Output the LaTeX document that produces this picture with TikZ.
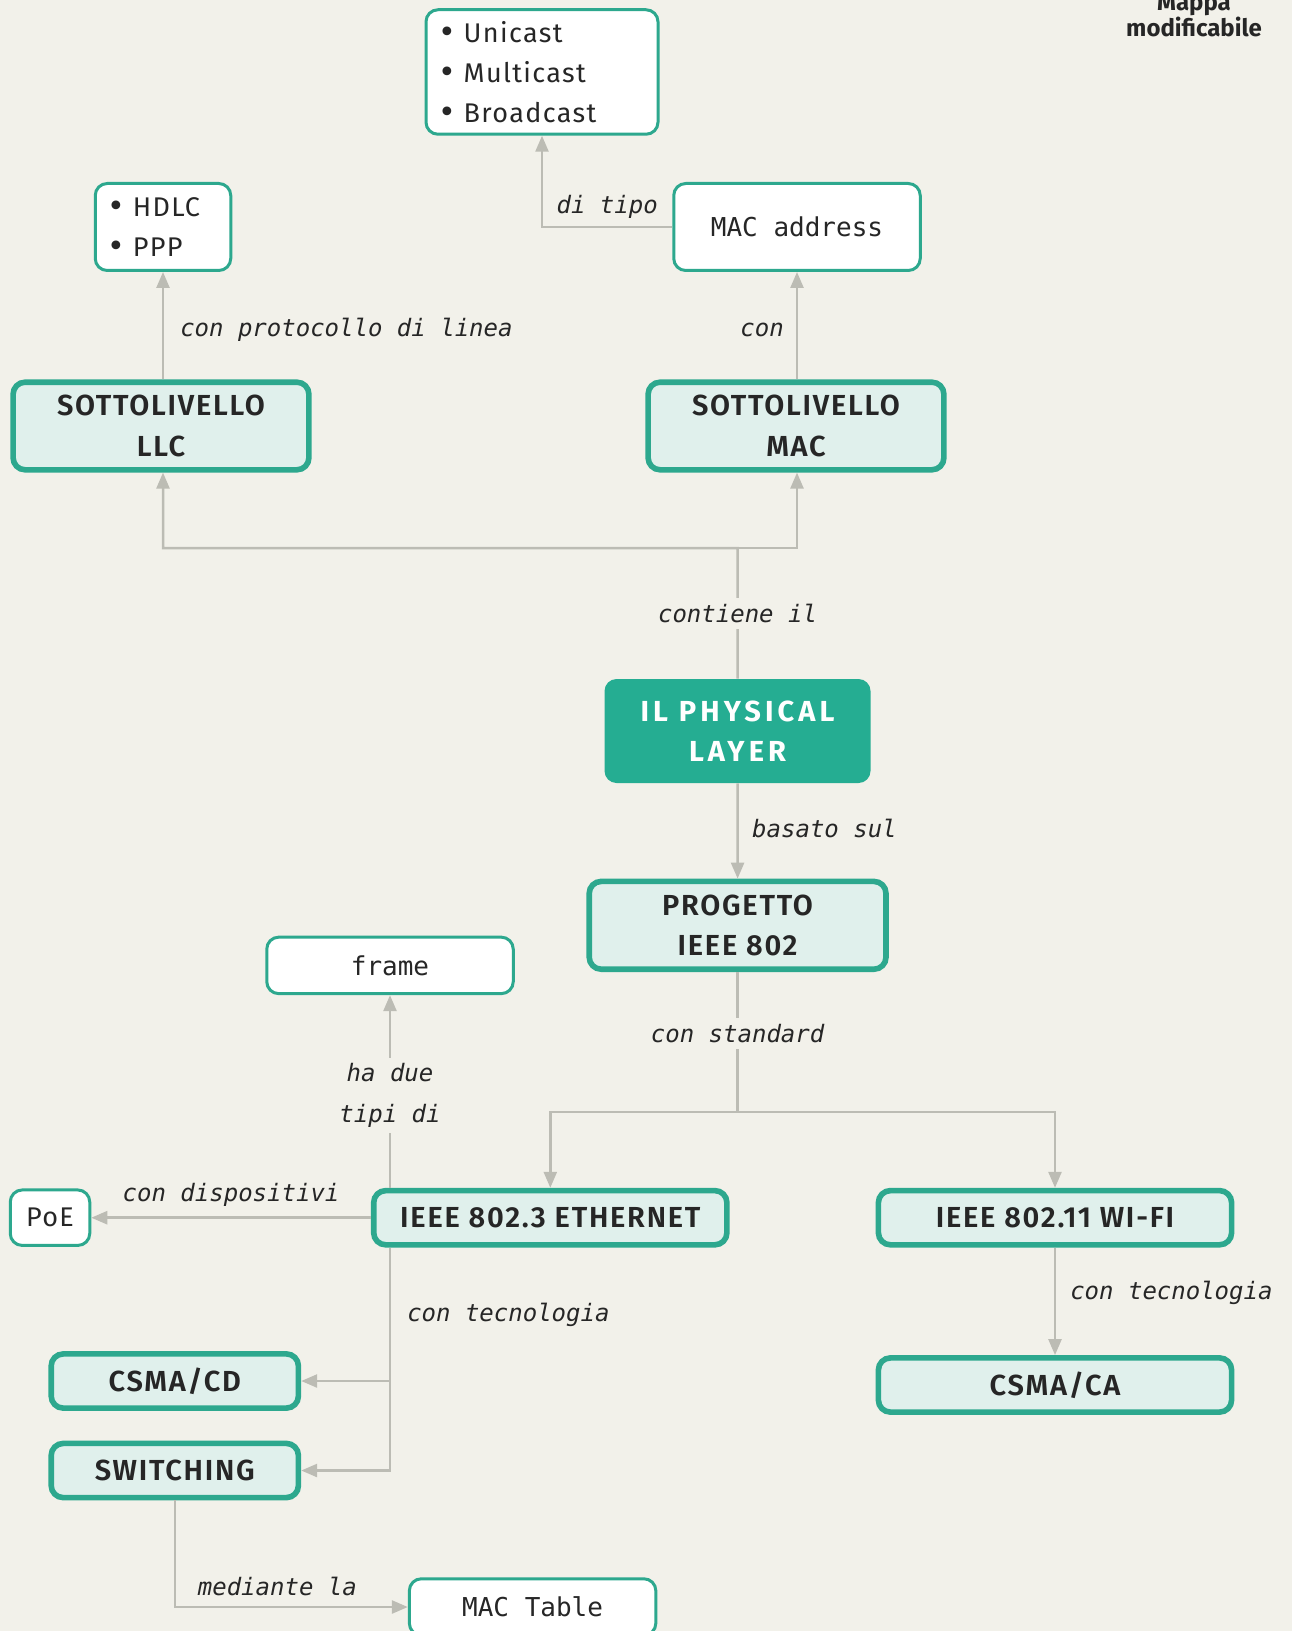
\documentclass[tikz,border=0pt]{standalone}
\usepackage{fontspec}
\setmainfont{Fira Sans}
\newfontfamily\boxfont[LetterSpace=6, BoldFont={* SemiBold}]{Fira Sans}
\newfontfamily\physfont[LetterSpace=14]{Fira Sans}
\newfontfamily\listfont[LetterSpace=5]{Fira Sans}
\newfontfamily\bulletfont{DejaVu Sans}
\newfontfamily\monofont{DejaVu Sans Mono}
\usetikzlibrary{positioning, calc, arrows.meta}

\definecolor{paper}{HTML}{F2F1EA}
\definecolor{mapteal}{HTML}{2DA88E}
\definecolor{physteal}{HTML}{25AD92}
\definecolor{mint}{HTML}{E0F0EC}
\definecolor{linkgray}{HTML}{BCBCB4}
\definecolor{ink}{HTML}{262626}

% list bullet
\newcommand{\itm}{{\bulletfont\fontsize{15}{20}\selectfont•}\hspace{4pt}}

\begin{document}
\begin{tikzpicture}[
  x=0.5pt, y=-0.5pt, % one unit = one pixel, y going down
  every node/.style={text=ink},
  keybox/.style={
    draw=mapteal, line width=2.8pt, fill=mint, rounded corners=6pt,
    align=center, font=\boxfont\bfseries\fontsize{14.5}{20.3}\selectfont
  },
  physbox/.style={
    fill=physteal, rounded corners=6pt, text=white,
    align=center, font=\physfont\bfseries\fontsize{14.5}{20.3}\selectfont
  },
  leafbox/.style={draw=mapteal, line width=1.5pt, fill=white, rounded corners=6pt},
  listbox/.style={leafbox, align=left, inner xsep=6pt,
    font=\listfont\fontsize{13.5}{20}\selectfont},
  monobox/.style={leafbox, font=\monofont\fontsize{13}{16}\selectfont},
  lbl/.style={inner sep=0pt, font=\monofont\itshape\fontsize{12}{20.2}\selectfont},
  online/.style={lbl, fill=paper, inner sep=3pt}, % hides the line below it
  wire/.style={draw=linkgray, line width=1.25pt},
  link/.style={wire, -{Triangle[length=8pt, width=6.5pt]}},
]
  % paper
  \fill[paper] (0,0) rectangle (1292,1631);
  \useasboundingbox (0,0) rectangle (1292,1631);

  %% corner note
  \node[inner sep=0pt, align=center, font=\bfseries\fontsize{12}{13}\selectfont]
    (note) at (1194,15) {Mappa\\modificabile};

  % central node
  \node[physbox, minimum width=133pt, minimum height=52pt]
    (phys) at (737.5,731) {IL PHYSICAL\\LAYER};

  % sublayers
  \node[keybox, minimum width=147.9pt, minimum height=43.8pt]
    (llc) at (161,426) {SOTTOLIVELLO\\LLC};
  \node[keybox, minimum width=147.9pt, minimum height=43.8pt]
    (mac) at (796,426) {SOTTOLIVELLO\\MAC};
  \node[listbox, text width=55.75pt, minimum height=43.5pt]
    (hdlc) at (163,227) {\itm HDLC\\\itm PPP};
  \node[monobox, minimum width=123.25pt, minimum height=43.5pt]
    (macaddr) at (797,227) {MAC address};
  \node[listbox, text width=104pt, minimum height=62.25pt]
    (casts) at (542,72) {\itm Unicast\\\itm Multicast\\\itm Broadcast};

  % IEEE 802 and its standards
  \node[keybox, minimum width=148.4pt, minimum height=43.9pt]
    (ieee) at (737.6,925.3) {PROGETTO\\IEEE 802};
  \node[keybox, minimum width=176.6pt, minimum height=27.1pt]
    (eth) at (550.3,1217.7) {IEEE 802.3 ETHERNET};
  \node[keybox, minimum width=176.6pt, minimum height=27.1pt]
    (wifi) at (1055,1217.7) {IEEE 802.11 WI-FI};
  \node[monobox, minimum width=123.25pt, minimum height=28.25pt]
    (frame) at (390,965.4) {frame};
  \node[listbox, inner xsep=0pt, minimum width=39.75pt, minimum height=27.75pt, align=center]
    (poe) at (50,1217.7) {PoE};
  \node[keybox, minimum width=123.6pt, minimum height=27.1pt]
    (csmacd) at (174.8,1381) {CSMA/CD};
  \node[keybox, minimum width=123.6pt, minimum height=27.1pt]
    (switching) at (174.8,1470.5) {SWITCHING};
  \node[keybox, minimum width=176.6pt, minimum height=27.1pt]
    (csmaca) at (1055,1385) {CSMA/CA};
  \node[monobox, minimum width=123.25pt, minimum height=28.25pt]
    (mactable) at (532.6,1607) {MAC Table};

  % physical layer up to the sublayers
  \coordinate (split) at (737.6,548);
  \draw[link] (phys.north) -- node[online] {contiene il} (split)
    -| (llc.south -| hdlc);
  \draw[link] (split) -| (mac.south -| macaddr);

  % sublayers up to their details
  \draw[link] (llc.north -| hdlc) -- (hdlc.south)
    node[lbl, pos=0.46, right=8pt] {con protocollo di linea};
  \draw[link] (mac.north -| macaddr) -- (macaddr.south)
    node[lbl, pos=0.46, left=6pt] {con};
  \draw[link] (macaddr.west) -| (casts.south)
    node[lbl, pos=0.25, above=3.5pt] {di tipo};

  % physical layer down to IEEE 802
  \draw[link] (phys.south) -- (ieee.north)
    node[lbl, pos=0.47, right=6.7pt] {basato sul};

  % IEEE 802 to the two standards
  \coordinate (fork) at (737.6,1112);
  \draw[wire] (ieee.south) -- node[online, pos=0.44] {con standard} (fork);
  \draw[link] (fork) -| (eth.north);
  \draw[link] (fork) -| (wifi.north);

  % ethernet links
  \draw[link] (eth.north -| frame) -- node[online, align=center, pos=0.48] {ha due\\tipi di}
    (frame.south);
  \draw[link] (eth.west) -- (poe.east)
    node[lbl, midway, above=5pt] {con dispositivi};
  \draw[link] (eth.south -| frame) |- (switching.east)
    node[lbl, pos=0.15, right=8pt] {con tecnologia};
  \draw[link] (csmacd.east -| frame) -- (csmacd.east);
  \draw[link] (switching.south) |- (mactable.west)
    node[lbl, pos=0.72, above=4.8pt] {mediante la};

  % wi-fi link
  \draw[link] (wifi.south) -- (csmaca.north)
    node[lbl, pos=0.42, right=7pt] {con tecnologia};

\end{tikzpicture}
\end{document}
